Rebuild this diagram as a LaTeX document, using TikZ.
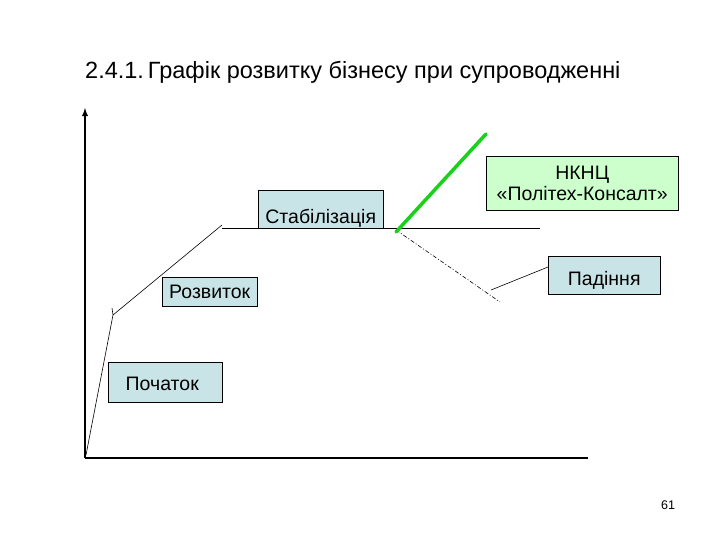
\documentclass[tikz,border=0pt]{standalone}
\usepackage{fontspec}
\setmainfont{Liberation Sans}
\definecolor{bl}{RGB}{200,228,230}
\definecolor{gr}{RGB}{204,255,204}
\begin{document}
\begin{tikzpicture}[x=1pt,y=-1pt,
  bx/.style={draw=black,line width=0.5pt,inner sep=0pt,anchor=north west,font=\fontsize{19.5}{22}\selectfont},
  blu/.style={bx,fill=bl},
  grn/.style={bx,fill=gr},
  lbl/.style={font=\fontsize{19.5}{22}\selectfont}]
\useasboundingbox (0,0) rectangle (720,540);
\node[anchor=west,inner sep=0pt,font=\fontsize{23.5}{27}\selectfont] (title) at (85,72) {2.4.1.\,Графік розвитку бізнесу при супроводженні};
\coordinate (o) at (85,458); \coordinate (yt) at (85,108); \coordinate (xe) at (588,458);
\draw[line width=1.8pt,-latex] (o) -- (yt);
\draw[line width=1.8pt] (o) -- (xe);
\coordinate (p0) at (86,455); \coordinate (p1) at (113,315); \coordinate (p1t) at (112,308);
\coordinate (p2) at (222,225); \coordinate (p3) at (222,228); \coordinate (p4) at (540,228);
\draw[line width=0.6pt] (p0) -- (p1) -- (p1t);
\draw[line width=0.6pt] (p1) -- (p2);
\draw[line width=0.8pt] (p3) -- (p4);
\coordinate (d0) at (396,230); \coordinate (d1) at (500,302);
\draw[line width=0.6pt,dash pattern=on 4pt off 2pt on 1pt off 2pt] (d0) -- (d1);
\coordinate (g0) at (396,232); \coordinate (g1) at (486,134);
\draw[green!80!black!90,line width=3.5pt,line cap=round] (g0) -- (g1);
\node[blu,minimum width=125pt,minimum height=38pt] (stab) at (258,190) {};
\node[lbl,anchor=south] at ([yshift=-2pt]stab.south) {Стабілізація};
\node[grn,minimum width=192pt,minimum height=54pt,align=center] (nk) at (486,156) {НКНЦ\\[-1pt]«Політех-Консалт»};
\node[blu,minimum width=112pt,minimum height=38pt] (pad) at (548,256) {};
\node[lbl] at ([yshift=-5pt]pad.center) {Падіння};
\coordinate (pl) at (491,290);
\draw[line width=0.6pt] (548,267) -- (pl);
\node[blu,minimum width=95pt,minimum height=29pt] (roz) at (162,277) {Розвиток};
\node[blu,minimum width=114pt,minimum height=40pt] (poch) at (108,362) {};
\node[lbl] at ([xshift=-3pt,yshift=-2pt]poch.center) {Початок};
\node[font=\fontsize{12.5}{15}\selectfont] (num) at (668,505) {61};
\end{tikzpicture}
\end{document}
